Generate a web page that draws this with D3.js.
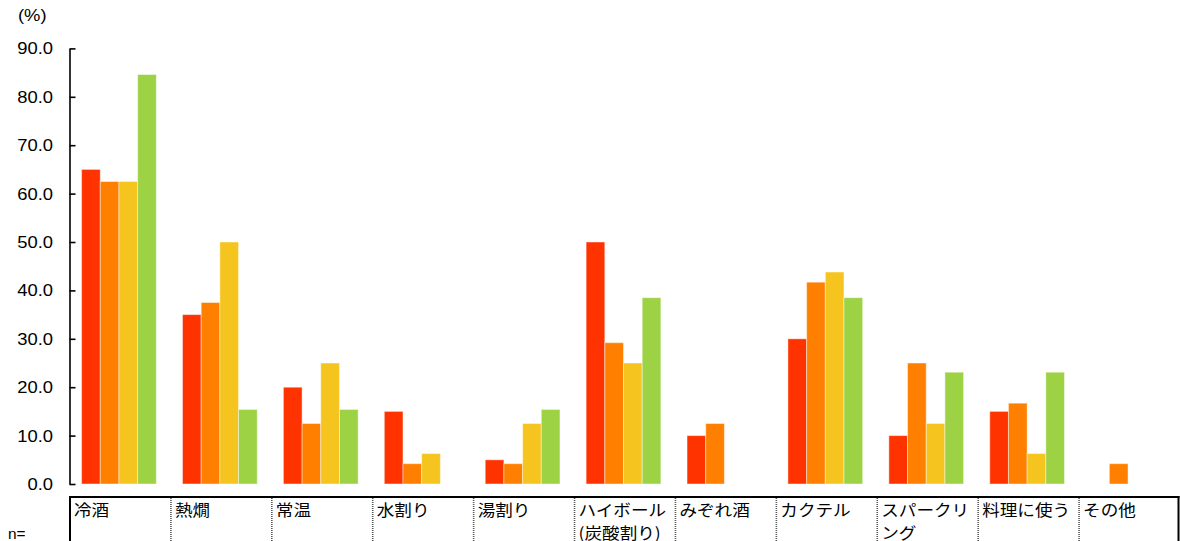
<!DOCTYPE html>
<html><head><meta charset="utf-8">
<script src="https://cdn.jsdelivr.net/npm/d3@7"></script>
<style>body{margin:0;background:#fff}svg{display:block}</style>
</head><body>
<svg id="c" width="1180" height="541"></svg>
<script>
const categories = ["冷酒","熱燗","常温","水割り","湯割り","ハイボール\n(炭酸割り)","みぞれ酒","カクテル","スパークリ\nング","料理に使う","その他"];
const seriesNames = ["s1","s2","s3","s4"];
const s1 = [65.0, 35.0, 20.0, 15.0, 5.0, 50.0, 10.0, 30.0, 10.0, 15.0, 0];
const s2 = [62.5, 37.5, 12.5, 4.2, 4.2, 29.2, 12.5, 41.7, 25.0, 16.7, 4.2];
const s3 = [62.5, 50.0, 25.0, 6.3, 12.5, 25.0, 0, 43.8, 12.5, 6.3, 0];
const s4 = [84.6, 15.4, 15.4, 0, 15.4, 38.5, 0, 38.5, 23.1, 23.1, 0];
const seriesValues = [s1, s2, s3, s4];
const colors = ["#FF3300", "#FF8000", "#F5C41F", "#9CD244"];
const yTicks = [0,10,20,30,40,50,60,70,80,90];

const svg = d3.select("#c");
const left = 69.5, right = 1179.5, y0 = 484, y90 = 48.4;
const x0 = d3.scaleBand().domain(categories).range([left, right]).padding(0);
const x1 = d3.scaleBand().domain(seriesNames).range([-1, x0.bandwidth() - 1]).paddingInner(0).paddingOuter(0.7);
const y = d3.scaleLinear().domain([0, 90]).range([y0, y90]);

// bars
const g = svg.append("g");
categories.forEach((c, i) => {
  seriesNames.forEach((s, j) => {
    const v = seriesValues[j][i];
    if (v <= 0) return;
    g.append("rect")
      .attr("x", x0(c) + x1(s))
      .attr("y", y(v))
      .attr("width", x1.bandwidth())
      .attr("height", y(0) - y(v))
      .attr("fill", colors[j])
      .attr("stroke", "rgba(255,255,255,0.45)")
      .attr("stroke-width", 1);
  });
});

// y axis
const axis = d3.axisLeft(y).tickValues(yTicks).tickSize(-6).tickSizeOuter(0).tickFormat(d3.format(".1f"));
const ag = svg.append("g").attr("transform", `translate(${left},0)`).call(axis);
ag.select(".domain").attr("stroke", "#000").attr("stroke-width", 1.6);
ag.selectAll(".tick line").attr("stroke", "#000").attr("stroke-width", 1.6);
ag.selectAll(".tick text").remove();
yTicks.forEach(t => {
  svg.append("text")
    .attr("transform", `translate(53,${y(t) + 6}) scale(1.15,1)`)
    .attr("text-anchor", "end")
    .attr("font-family", "'Liberation Sans', Arial, sans-serif")
    .attr("font-size", 16)
    .attr("fill", "#000")
    .text(d3.format(".1f")(t));
});
svg.append("text")
  .attr("transform", "translate(18,21) scale(1.15,1)")
  .attr("font-family", "'Liberation Sans', Arial, sans-serif")
  .attr("font-size", 16)
  .text("(%)");

// table
svg.append("line").attr("x1", left).attr("x2", right).attr("y1", 497).attr("y2", 497)
  .attr("stroke", "#000").attr("stroke-width", 2.2);
svg.append("line").attr("x1", left + 0.5).attr("x2", left + 0.5).attr("y1", 496).attr("y2", 541)
  .attr("stroke", "#000").attr("stroke-width", 2);
svg.append("line").attr("x1", right - 1).attr("x2", right - 1).attr("y1", 496).attr("y2", 541)
  .attr("stroke", "#000").attr("stroke-width", 2);
categories.forEach((c, i) => {
  if (i > 0) {
    svg.append("line").attr("x1", x0(c) + 0.5).attr("x2", x0(c) + 0.5).attr("y1", 498).attr("y2", 541)
      .attr("stroke", "#555").attr("stroke-width", 1.6).attr("stroke-dasharray", "1,1");
  }
  c.split("\n").forEach((line, k) => {
    svg.append("text")
      .attr("transform", `translate(${x0(c) + 4.5},${516 + k * 23}) scale(1.1,1)`)
      .attr("font-family", "'Noto Sans CJK JP', sans-serif")
      .attr("font-size", 16)
      .attr("fill", "#000")
      .text(line);
  });
});
svg.append("text")
  .attr("transform", "translate(8,539) scale(1.1,1)")
  .attr("font-family", "'Liberation Sans', Arial, sans-serif")
  .attr("font-size", 14)
  .text("n=");
</script>
</body></html>
